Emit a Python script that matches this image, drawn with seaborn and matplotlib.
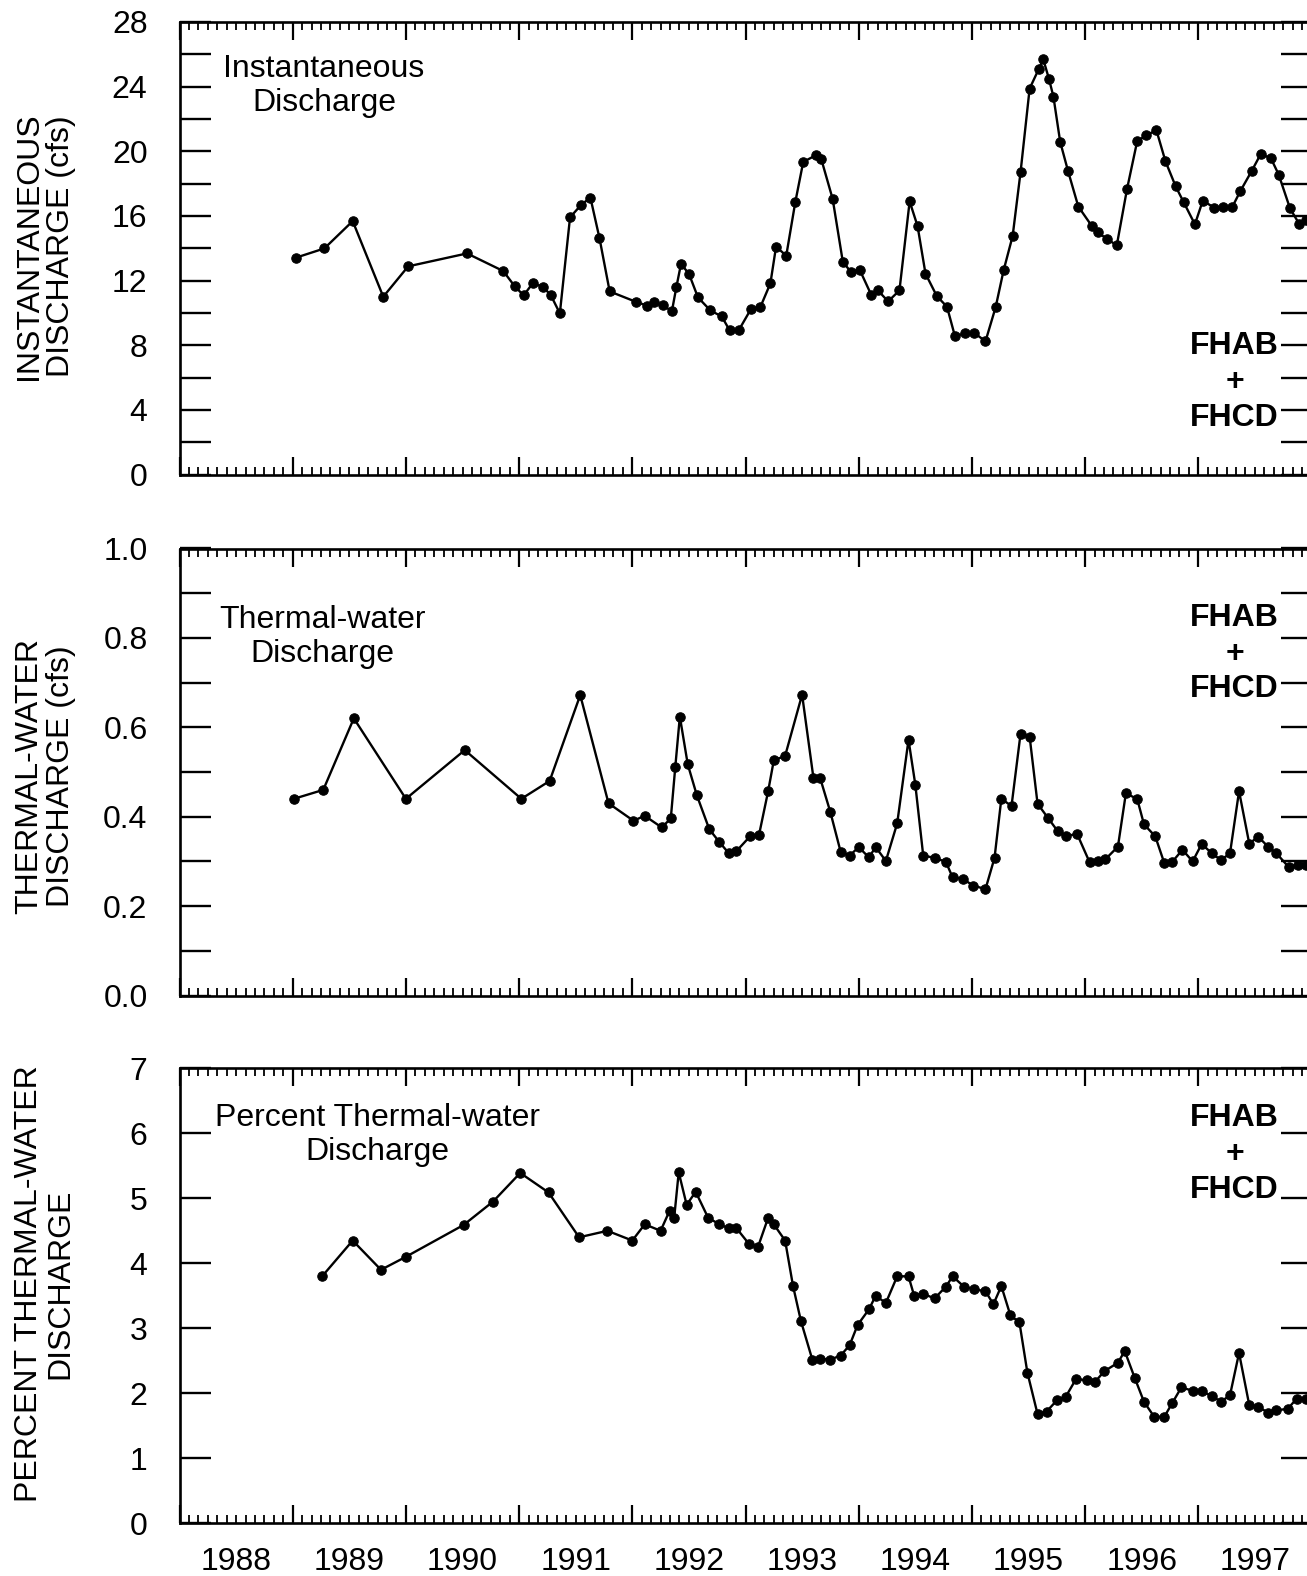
import numpy as np
import pandas as pd
import matplotlib
matplotlib.use("Agg")
import matplotlib.pyplot as plt
from matplotlib.ticker import MultipleLocator, FormatStrFormatter
import matplotlib.transforms as mtransforms
import seaborn as sns

# ---- data (decimal years) ----
inst_year = [1989.03, 1989.28, 1989.53, 1989.80, 1990.02, 1990.54, 1990.86, 1990.96, 1991.04, 1991.12,
             1991.21, 1991.28, 1991.36, 1991.45, 1991.55, 1991.63, 1991.71, 1991.80, 1992.03, 1992.13,
             1992.19, 1992.27, 1992.35, 1992.39, 1992.43, 1992.50, 1992.58, 1992.69, 1992.79, 1992.86,
             1992.94, 1993.05, 1993.13, 1993.22, 1993.27, 1993.36, 1993.44, 1993.51, 1993.62, 1993.67,
             1993.77, 1993.86, 1993.93, 1994.01, 1994.11, 1994.17, 1994.26, 1994.36, 1994.45, 1994.52,
             1994.59, 1994.69, 1994.78, 1994.85, 1994.94, 1995.02, 1995.12, 1995.21, 1995.28, 1995.36,
             1995.43, 1995.51, 1995.59, 1995.63, 1995.68, 1995.72, 1995.78, 1995.85, 1995.94, 1996.06,
             1996.11, 1996.19, 1996.28, 1996.37, 1996.46, 1996.54, 1996.63, 1996.71, 1996.80, 1996.87,
             1996.97, 1997.04, 1997.14, 1997.22, 1997.30, 1997.37, 1997.47, 1997.55, 1997.64, 1997.71,
             1997.81, 1997.89, 1997.95]
inst_cfs = [13.42, 13.99, 15.68, 11.00, 12.88, 13.68, 12.59, 11.66, 11.08, 11.83,
            11.62, 11.10, 9.97, 15.91, 16.70, 17.13, 14.63, 11.33, 10.69, 10.45,
            10.65, 10.46, 10.11, 11.62, 13.02, 12.43, 10.96, 10.15, 9.78, 8.92,
            8.92, 10.26, 10.34, 11.83, 14.10, 13.54, 16.86, 19.34, 19.75, 19.50,
            17.05, 13.15, 12.55, 12.65, 11.13, 11.39, 10.71, 11.39, 16.90, 15.37,
            12.43, 11.04, 10.38, 8.56, 8.73, 8.77, 8.24, 10.36, 12.63, 14.76,
            18.72, 23.88, 25.08, 25.70, 24.50, 23.39, 20.58, 18.76, 16.58, 15.37,
            15.00, 14.59, 14.18, 17.65, 20.62, 20.99, 21.30, 19.38, 17.83, 16.86,
            15.48, 16.95, 16.51, 16.55, 16.55, 17.52, 18.76, 19.81, 19.59, 18.56,
            16.47, 15.52, 15.73]

therm_year = [1989.01, 1989.27, 1989.54, 1990.00, 1990.52, 1991.02, 1991.27, 1991.54, 1991.79, 1992.01,
              1992.11, 1992.26, 1992.34, 1992.38, 1992.42, 1992.49, 1992.57, 1992.68, 1992.77, 1992.85,
              1992.92, 1993.04, 1993.12, 1993.20, 1993.25, 1993.35, 1993.50, 1993.60, 1993.66, 1993.75,
              1993.84, 1993.92, 1994.00, 1994.09, 1994.15, 1994.24, 1994.34, 1994.44, 1994.50, 1994.57,
              1994.67, 1994.77, 1994.83, 1994.92, 1995.01, 1995.12, 1995.20, 1995.26, 1995.35, 1995.43,
              1995.51, 1995.58, 1995.67, 1995.76, 1995.83, 1995.93, 1996.04, 1996.11, 1996.18, 1996.29,
              1996.36, 1996.46, 1996.52, 1996.62, 1996.70, 1996.77, 1996.86, 1996.95, 1997.03, 1997.12,
              1997.20, 1997.28, 1997.36, 1997.45, 1997.53, 1997.62, 1997.69, 1997.80, 1997.88, 1997.95]
therm_cfs = [0.440, 0.460, 0.620, 0.440, 0.549, 0.440, 0.480, 0.672, 0.430, 0.391,
             0.402, 0.376, 0.396, 0.512, 0.624, 0.517, 0.448, 0.372, 0.343, 0.319,
             0.323, 0.356, 0.360, 0.457, 0.526, 0.536, 0.673, 0.487, 0.486, 0.410,
             0.322, 0.313, 0.332, 0.309, 0.332, 0.301, 0.385, 0.572, 0.472, 0.313,
             0.308, 0.299, 0.264, 0.261, 0.246, 0.238, 0.308, 0.440, 0.424, 0.586,
             0.579, 0.429, 0.398, 0.367, 0.357, 0.361, 0.298, 0.302, 0.305, 0.333,
             0.452, 0.440, 0.383, 0.356, 0.296, 0.299, 0.326, 0.300, 0.339, 0.318,
             0.303, 0.318, 0.457, 0.340, 0.355, 0.332, 0.318, 0.287, 0.293, 0.293]

pct_year = [1989.26, 1989.53, 1989.78, 1990.00, 1990.51, 1990.77, 1991.01, 1991.26, 1991.53, 1991.78,
            1992.00, 1992.11, 1992.25, 1992.33, 1992.37, 1992.41, 1992.48, 1992.56, 1992.67, 1992.77,
            1992.85, 1992.92, 1993.03, 1993.11, 1993.20, 1993.25, 1993.35, 1993.42, 1993.49, 1993.59,
            1993.66, 1993.75, 1993.84, 1993.92, 1993.99, 1994.09, 1994.15, 1994.24, 1994.34, 1994.44,
            1994.49, 1994.57, 1994.67, 1994.77, 1994.83, 1994.93, 1995.02, 1995.12, 1995.19, 1995.26,
            1995.34, 1995.42, 1995.49, 1995.58, 1995.66, 1995.75, 1995.83, 1995.92, 1996.02, 1996.09,
            1996.17, 1996.29, 1996.35, 1996.44, 1996.52, 1996.61, 1996.70, 1996.77, 1996.85, 1996.95,
            1997.03, 1997.12, 1997.20, 1997.28, 1997.36, 1997.45, 1997.53, 1997.62, 1997.69, 1997.79,
            1997.87, 1997.95]
pct_thermal = [3.80, 4.35, 3.90, 4.10, 4.59, 4.95, 5.39, 5.09, 4.40, 4.50,
               4.35, 4.60, 4.50, 4.81, 4.70, 5.40, 4.90, 5.10, 4.70, 4.60,
               4.54, 4.54, 4.30, 4.25, 4.70, 4.60, 4.35, 3.65, 3.11, 2.52,
               2.53, 2.52, 2.58, 2.74, 3.05, 3.29, 3.50, 3.39, 3.80, 3.80,
               3.50, 3.53, 3.46, 3.64, 3.80, 3.64, 3.60, 3.57, 3.37, 3.65,
               3.20, 3.09, 2.32, 1.68, 1.72, 1.89, 1.95, 2.22, 2.20, 2.18,
               2.34, 2.47, 2.65, 2.23, 1.87, 1.64, 1.64, 1.85, 2.09, 2.04,
               2.03, 1.96, 1.87, 1.97, 2.62, 1.82, 1.79, 1.70, 1.74, 1.76,
               1.92, 1.92]

years = [1988, 1989, 1990, 1991, 1992, 1993, 1994, 1995, 1996, 1997]

sns.set_style("ticks")
plt.rcParams['font.family'] = ['Liberation Sans', 'DejaVu Sans']
for k in ["text.color", "axes.labelcolor", "xtick.color", "ytick.color", "axes.edgecolor"]:
    plt.rcParams[k] = "black"

FS = 23
W, H = 1307, 1576
fig = plt.figure(figsize=(W / 100, H / 100), dpi=100)


def px_axes(top, bottom):
    return [179.5 / W, 1 - bottom / H, 1132 / W, (bottom - top) / H]


ax1 = fig.add_axes(px_axes(22, 474.5))
ax2 = fig.add_axes(px_axes(548.5, 995.5))
ax3 = fig.add_axes(px_axes(1068.3, 1523.3))

panels = [
    (ax1, inst_year, inst_cfs, (0, 28), 4, 2, "%d", "INSTANTANEOUS\nDISCHARGE (cfs)", 246),
    (ax2, therm_year, therm_cfs, (0, 1.0), 0.2, 0.1, "%.1f", "THERMAL-WATER\nDISCHARGE (cfs)", 776),
    (ax3, pct_year, pct_thermal, (0, 7), 1, 1, "%d", "PERCENT THERMAL-WATER\nDISCHARGE", 1284),
]

for ax, xs, ys, ylim, ymaj, ymin, fmt, ylab, ylab_y in panels:
    df = pd.DataFrame({"year": xs, "value": ys})
    sns.lineplot(data=df, x="year", y="value", ax=ax, color="black", linewidth=1.7,
                 marker="o", markersize=6.8, markeredgecolor="black", estimator=None, sort=False)
    ax.set_xlim(1988, 1998)
    ax.set_ylim(*ylim)
    ax.set_xlabel("")
    ax.set_ylabel("")
    ax.xaxis.set_major_locator(MultipleLocator(1))
    ax.xaxis.set_minor_locator(MultipleLocator(1 / 12))
    ax.yaxis.set_major_locator(MultipleLocator(ymaj))
    ax.yaxis.set_minor_locator(MultipleLocator(ymin))
    ax.yaxis.set_major_formatter(FormatStrFormatter(fmt))
    ax.tick_params(axis="x", which="major", direction="in", length=13, width=1.6,
                   top=True, bottom=True, labelbottom=False)
    ax.tick_params(axis="x", which="minor", direction="in", length=6, width=1.3,
                   top=True, bottom=True)
    ax.tick_params(axis="y", which="both", direction="in", length=22, width=1.7,
                   left=True, right=True, pad=23, labelsize=FS)
    for s in ax.spines.values():
        s.set_visible(True)
        s.set_linewidth(1.9)
        s.set_color("black")
    fig.text(45 / W, 1 - ylab_y / H, ylab, rotation=90, ha="center", va="center",
             fontsize=FS, linespacing=1.05, multialignment="center")

# year labels centred in each year, just below the bottom panel
year_tr = mtransforms.blended_transform_factory(ax3.transData, fig.transFigure)
for y in years:
    fig.text(y + 0.5, 1 - 1562 / H, str(y), transform=year_tr,
             ha="center", va="center", fontsize=FS)

# panel annotations
fig.text(324 / W, 1 - 86 / H, "Instantaneous\nDischarge", ha="center", va="center",
         fontsize=FS, linespacing=1.2)
fig.text(322 / W, 1 - 637 / H, "Thermal-water\nDischarge", ha="center", va="center",
         fontsize=FS, linespacing=1.2)
fig.text(377.5 / W, 1 - 1135 / H, "Percent Thermal-water\nDischarge", ha="center", va="center",
         fontsize=FS, linespacing=1.2)
for yc in [382, 653.5, 1154]:
    fig.text(1234.6 / W, 1 - yc / H, "FHAB\n+\nFHCD", ha="center", va="center",
             fontsize=FS, fontweight="bold", linespacing=1.25)

fig.savefig("out.png", dpi=100)
